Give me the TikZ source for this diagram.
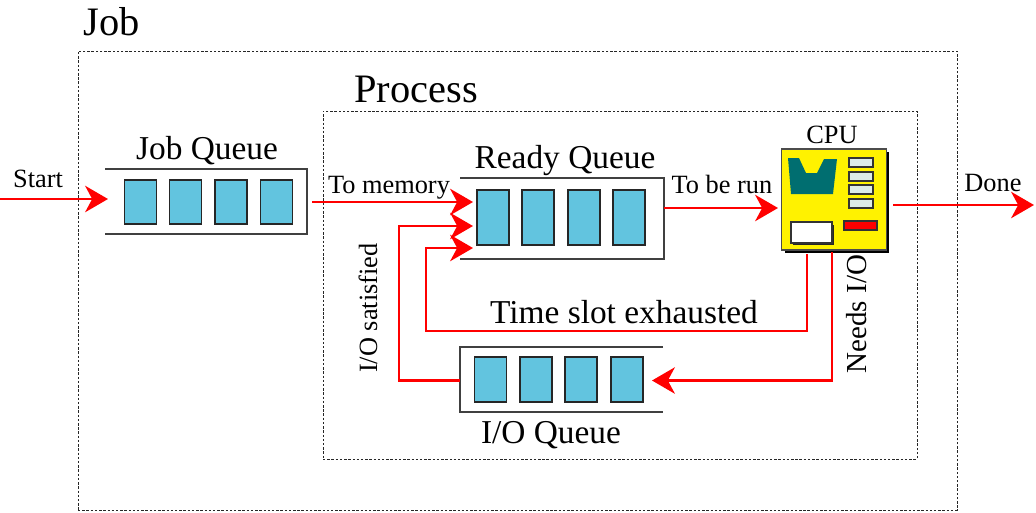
\documentclass[tikz,border=0pt]{standalone}
\usepackage{fontspec}
\setmainfont{Liberation Serif}
\usetikzlibrary{arrows.meta}

\tikzset{
	frame/.style={draw=black!85, line width=0.55pt, dash pattern=on 1.4pt off 1pt},
	qline/.style={draw=black!75, line width=0.9pt},
	slot/.style={draw=black!85, line width=0.9pt, fill=slotblue, inner sep=0pt, minimum width=18pt},
	flow/.style={draw=flowred, line width=1.6pt, -{Stealth[length=13pt, width=15pt, inset=4pt]}},
	part/.style={draw=black!80, line width=0.8pt},
	big/.style={font=\fontsize{23}{25}\selectfont, inner sep=0pt},
	mid/.style={font=\fontsize{19}{21}\selectfont, inner sep=0pt},
	small/.style={font=\fontsize{15}{17}\selectfont, inner sep=0pt},
}
\definecolor{slotblue}{HTML}{62C4DF}
\definecolor{flowred}{HTML}{FF0000}
\definecolor{chipteal}{HTML}{006E70}
\definecolor{lampgrey}{HTML}{DCEBE8}

\begin{document}
\begin{tikzpicture}[x=0.02cm, y=-0.02cm]

\path [use as bounding box] (0,0) rectangle (1036,512);

% FRAMES
\node (jobframe) [frame, minimum width=879*0.02cm, minimum height=459*0.02cm] at (517.5,280.5) {};
\node (procframe) [frame, minimum width=594*0.02cm, minimum height=348*0.02cm] at (620,285) {};
\node (jobtitle) [big, anchor=base west] at (83,35) {Job};
\node (proctitle) [big, anchor=base west] at (354,102) {Process};

% JOB QUEUE
\draw [qline] (105,169) -- (307,169) -- (307,234) -- (105,234);
\foreach \n/\x in {1/140.5, 2/185.5, 3/231, 4/276.5}
	\node (jobq\n) [slot, minimum height=44*0.02cm] at (\x,202) {};
\node (jobqlabel) [mid, anchor=base] at (207,159) {Job Queue};

% READY QUEUE
\draw [qline] (460,178) -- (664,178) -- (664,259) -- (460,259);
\foreach \n/\x in {1/493, 2/538, 3/584, 4/629}
	\node (readyq\n) [slot, minimum height=55*0.02cm] at (\x,217.5) {};
\node (readyqlabel) [mid, anchor=base] at (565,168) {Ready Queue};

% IO QUEUE
\draw [qline] (663,347) -- (460,347) -- (460,412) -- (663,412);
\foreach \n/\x in {1/490.5, 2/536, 3/581, 4/627}
	\node (ioq\n) [slot, minimum height=45*0.02cm] at (\x,379.5) {};
\node (ioqlabel) [mid, anchor=base] at (551,443) {I/O Queue};

% CPU
\fill [black] (785,152) rectangle (889,253);
\node (cpu) [draw=black!70, line width=0.8pt, fill=yellow, minimum width=105*0.02cm, minimum height=101*0.02cm] at (834,199.5) {};
\node (cpulabel) [small, anchor=base] at (832,143) {CPU};
\fill [chipteal] (788,158) -- (799,158) -- (806,173) -- (817,173) -- (824,159) -- (837,159) -- (833,194) -- (791,194) -- cycle;
\foreach \y in {158, 172, 185, 199}
	\filldraw [part, fill=lampgrey] (849,\y) rectangle (873,\y+9);
\filldraw [part, fill=red] (844,221) rectangle (877,230);
\fill [black!85] (793,225) rectangle (834,245);
\filldraw [part, fill=white] (791,222) rectangle (832,243);

% ENDS
\coordinate (startpt) at (0,199);
\coordinate (jobqin) at (108,199);
\coordinate (jobqout) at (312,202);
\coordinate (readyin1) at (473,202);
\coordinate (readyin2) at (473,226);
\coordinate (readyin3) at (473,248);
\coordinate (readyout) at (664,208);
\coordinate (cpuin) at (778,208);
\coordinate (cpuout) at (893,205);
\coordinate (donept) at (1034,205);
\coordinate (cpuslot) at (807,254);
\coordinate (cpuio) at (832,252);
\coordinate (ioin) at (652,380.5);
\coordinate (ioout) at (460,380.5);

% FLOWS
\draw [flow] (startpt) -- (jobqin);
\draw [flow] (jobqout) -- (readyin1);
\draw [flow] (readyout) -- (cpuin);
\draw [flow] (cpuout) -- (donept);
\draw [flow] (cpuio) |- (ioin);
\draw [flow] (cpuslot) -- (807,331) -- (426,331) |- (readyin3);
\draw [flow] (ioout) -- (399,380.5) |- (readyin2);

% LABELS
\node (startlabel) [small, anchor=base] at (38,187) {Start};
\node (memlabel) [small, anchor=base] at (389,193) {To memory};
\node (runlabel) [small, anchor=base] at (722,193) {To be run};
\node (donelabel) [small, anchor=base] at (993,191) {Done};
\node (slotlabel) [mid, anchor=base] at (624,323) {Time slot exhausted};
\node (satlabel) [small, anchor=base, rotate=90] at (377,308) {I/O satisfied};
\node (needslabel) [font=\fontsize{16.5}{18}\selectfont, inner sep=0pt, anchor=base, rotate=90] at (866,314) {Needs I/O};

\end{tikzpicture}
\end{document}
